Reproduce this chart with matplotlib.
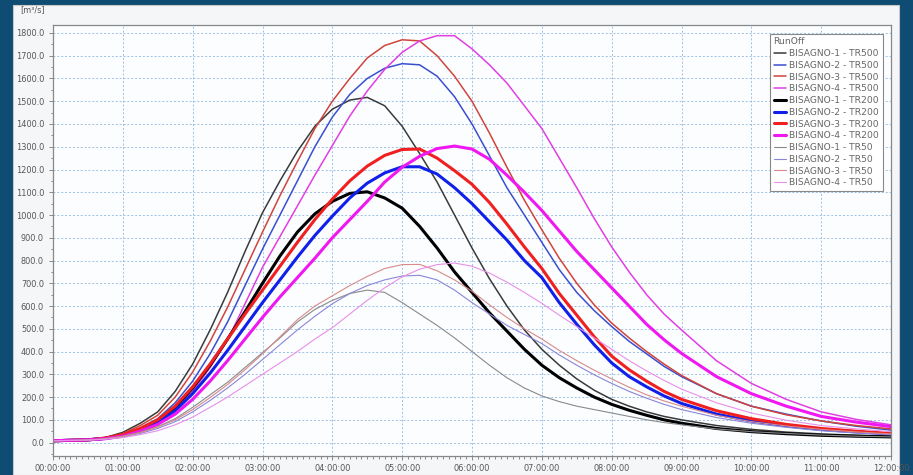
import matplotlib
matplotlib.use("Agg")
import matplotlib.pyplot as plt
from matplotlib.patches import Rectangle
from matplotlib.ticker import MultipleLocator, FuncFormatter

# time in hours
hours = [0, 0.5, 0.75, 1, 1.25, 1.5, 1.75, 2, 2.25, 2.5, 2.75, 3, 3.25, 3.5, 3.75, 4, 4.25,
         4.5, 4.75, 5, 5.25, 5.5, 5.75, 6, 6.25, 6.5, 6.75, 7, 7.25, 7.5, 7.75, 8, 8.25, 8.5,
         8.75, 9, 9.5, 10, 10.5, 11, 11.5, 12]

# TR500
b1_tr500 = [8, 12, 22, 45, 85, 135, 225, 345, 495, 660, 840, 1010, 1150, 1280, 1390, 1465, 1505,
            1517, 1480, 1390, 1270, 1145, 1000, 855, 720, 600, 495, 410, 340, 280, 230, 190, 160, 135,
            115, 100, 75, 58, 46, 38, 32, 28]
b2_tr500 = [8, 12, 20, 35, 65, 105, 175, 270, 390, 530, 690, 850, 1000, 1150, 1300, 1430, 1530,
            1600, 1645, 1665, 1660, 1610, 1520, 1400, 1260, 1120, 1000, 880, 760, 660, 580, 510, 445, 390,
            335, 290, 215, 160, 125, 95, 72, 55]
b3_tr500 = [8, 12, 21, 40, 75, 120, 200, 310, 445, 595, 760, 925, 1085, 1235, 1380, 1500, 1600,
            1690, 1745, 1770, 1765, 1700, 1610, 1500, 1360, 1210, 1065, 935, 810, 700, 605, 525, 460, 400,
            345, 295, 215, 160, 122, 95, 75, 60]
b4_tr500 = [8, 12, 18, 30, 55, 90, 145, 225, 330, 450, 610, 770, 905, 1040, 1175, 1305, 1435,
            1545, 1640, 1715, 1765, 1788, 1788, 1730, 1660, 1580, 1480, 1380, 1250, 1120, 985, 860, 750, 650,
            565, 495, 360, 260, 190, 135, 102, 78]
# TR200
b1_tr200 = [8, 12, 19, 32, 58, 95, 155, 240, 340, 455, 575, 700, 820, 925, 1005, 1060, 1095,
            1102, 1075, 1030, 950, 855, 750, 660, 570, 490, 410, 340, 285, 240, 200, 168, 142, 120,
            100, 85, 62, 48, 39, 32, 28, 25]
b2_tr200 = [8, 12, 18, 30, 55, 88, 140, 215, 305, 405, 510, 615, 715, 815, 910, 995, 1075,
            1140, 1185, 1212, 1212, 1180, 1120, 1050, 970, 890, 800, 725, 615, 520, 430, 350, 290, 245,
            205, 172, 125, 95, 74, 58, 47, 38]
b3_tr200 = [8, 12, 20, 35, 62, 100, 160, 245, 345, 455, 565, 670, 775, 880, 980, 1070, 1150,
            1215, 1262, 1288, 1290, 1250, 1195, 1135, 1055, 960, 860, 765, 655, 560, 465, 380, 320, 270,
            225, 190, 140, 105, 80, 62, 50, 40]
b4_tr200 = [8, 12, 17, 28, 50, 80, 125, 190, 270, 360, 455, 550, 640, 725, 810, 900, 980,
            1060, 1145, 1210, 1258, 1292, 1303, 1290, 1245, 1175, 1100, 1020, 930, 840, 760, 680, 600, 520,
            452, 392, 290, 215, 160, 115, 90, 70]
# TR50
b1_tr50 = [8, 11, 17, 28, 45, 70, 105, 155, 210, 265, 330, 395, 460, 530, 585, 625, 655,
           670, 660, 615, 565, 515, 460, 400, 340, 285, 240, 205, 180, 160, 145, 130, 115, 100,
           88, 78, 60, 48, 40, 33, 28, 25]
b2_tr50 = [8, 11, 16, 25, 40, 62, 92, 135, 185, 240, 300, 365, 430, 495, 555, 610, 655,
           690, 715, 732, 735, 715, 670, 615, 565, 515, 475, 435, 385, 340, 298, 260, 225, 195,
           168, 145, 110, 85, 67, 52, 42, 35]
b3_tr50 = [8, 11, 17, 27, 44, 68, 100, 145, 198, 255, 320, 390, 465, 540, 600, 645, 690,
           730, 765, 782, 783, 755, 715, 665, 605, 550, 500, 455, 405, 360, 318, 280, 243, 210,
           183, 160, 120, 92, 73, 58, 47, 38]
b4_tr50 = [8, 11, 15, 22, 35, 52, 78, 112, 155, 200, 250, 300, 350, 400, 455, 505, 565,
           625, 680, 728, 762, 782, 789, 775, 745, 705, 660, 612, 560, 510, 460, 410, 360, 315,
           273, 235, 175, 130, 98, 75, 60, 48]

labels = ["BISAGNO-1 - TR500", "BISAGNO-2 - TR500", "BISAGNO-3 - TR500", "BISAGNO-4 - TR500",
          "BISAGNO-1 - TR200", "BISAGNO-2 - TR200", "BISAGNO-3 - TR200", "BISAGNO-4 - TR200",
          "BISAGNO-1 - TR50", "BISAGNO-2 - TR50", "BISAGNO-3 - TR50", "BISAGNO-4 - TR50"]
series = [b1_tr500, b2_tr500, b3_tr500, b4_tr500,
          b1_tr200, b2_tr200, b3_tr200, b4_tr200,
          b1_tr50, b2_tr50, b3_tr50, b4_tr50]
colors = ["#3a3a3a", "#3a4fd0", "#d0443c", "#e23ee2",
          "#000000", "#1020e8", "#f02020", "#f018f0",
          "#8a8a8a", "#8a86d8", "#d88a8a", "#e890e8"]
widths = [1.1, 1.1, 1.1, 1.1, 2.2, 2.2, 2.2, 2.2, 0.8, 0.8, 0.8, 0.8]

xticklabels = ["%02d:00:00" % h for h in range(13)]

fig = plt.figure(figsize=(9.13, 4.75), dpi=100, facecolor="#0f4c73")
panel = Rectangle((13 / 913, 0), (899 - 13) / 913, 1 - 5 / 475,
                  transform=fig.transFigure, facecolor="#f5f6f7",
                  edgecolor="#c8c8c8", lw=0.8, zorder=-5)
fig.add_artist(panel)
ax = fig.add_axes([53 / 913, 1 - 456 / 475, (891 - 53) / 913, (456 - 25) / 475])
ax.set_zorder(1)
ax.set_facecolor("#fbfdff")

for s, c, w, lab in zip(series, colors, widths, labels):
    ax.plot(hours, s, color=c, lw=w, label=lab, solid_capstyle="round", solid_joinstyle="round")

ax.set_xlim(0, 12)
ax.set_ylim(-59, 1835)
ax.set_xticks(range(13))
ax.set_xticklabels(xticklabels)
ax.xaxis.set_minor_locator(MultipleLocator(1 / 12))
ax.set_yticks([v for v in range(0, 1900, 100)])
ax.yaxis.set_major_formatter(FuncFormatter(lambda v, p: "%.1f" % v))
ax.yaxis.set_minor_locator(MultipleLocator(50))

ax.grid(True, which="major", color="#9cc0e4", ls=(0, (2, 2)), lw=0.7)
ax.tick_params(which="both", colors="#777777", labelcolor="#555555", labelsize=5.9, width=0.6)
ax.tick_params(which="major", length=3)
ax.tick_params(which="minor", length=1.8)
ax.tick_params(axis="x", pad=3)
for sp in ax.spines.values():
    sp.set_color("#888888")
    sp.set_linewidth(0.9)

fig.text(20 / 913, 1 - 10 / 475, "[m³/s]", fontsize=5.9, color="#555555", ha="left", va="center")

leg = ax.legend(loc="upper right", bbox_to_anchor=(0.99, 0.98), fontsize=6.6, title="RunOff",
                title_fontsize=6.6, frameon=True, fancybox=False, framealpha=1,
                edgecolor="#888888", handlelength=1.4, handletextpad=0.3, labelspacing=0.3,
                borderpad=0.4, borderaxespad=0, alignment="left")
for t in leg.get_texts():
    t.set_color("#666666")
leg.get_title().set_color("#666666")
leg.get_frame().set_linewidth(0.8)

fig.savefig("out.png", dpi=100, facecolor=fig.get_facecolor())
